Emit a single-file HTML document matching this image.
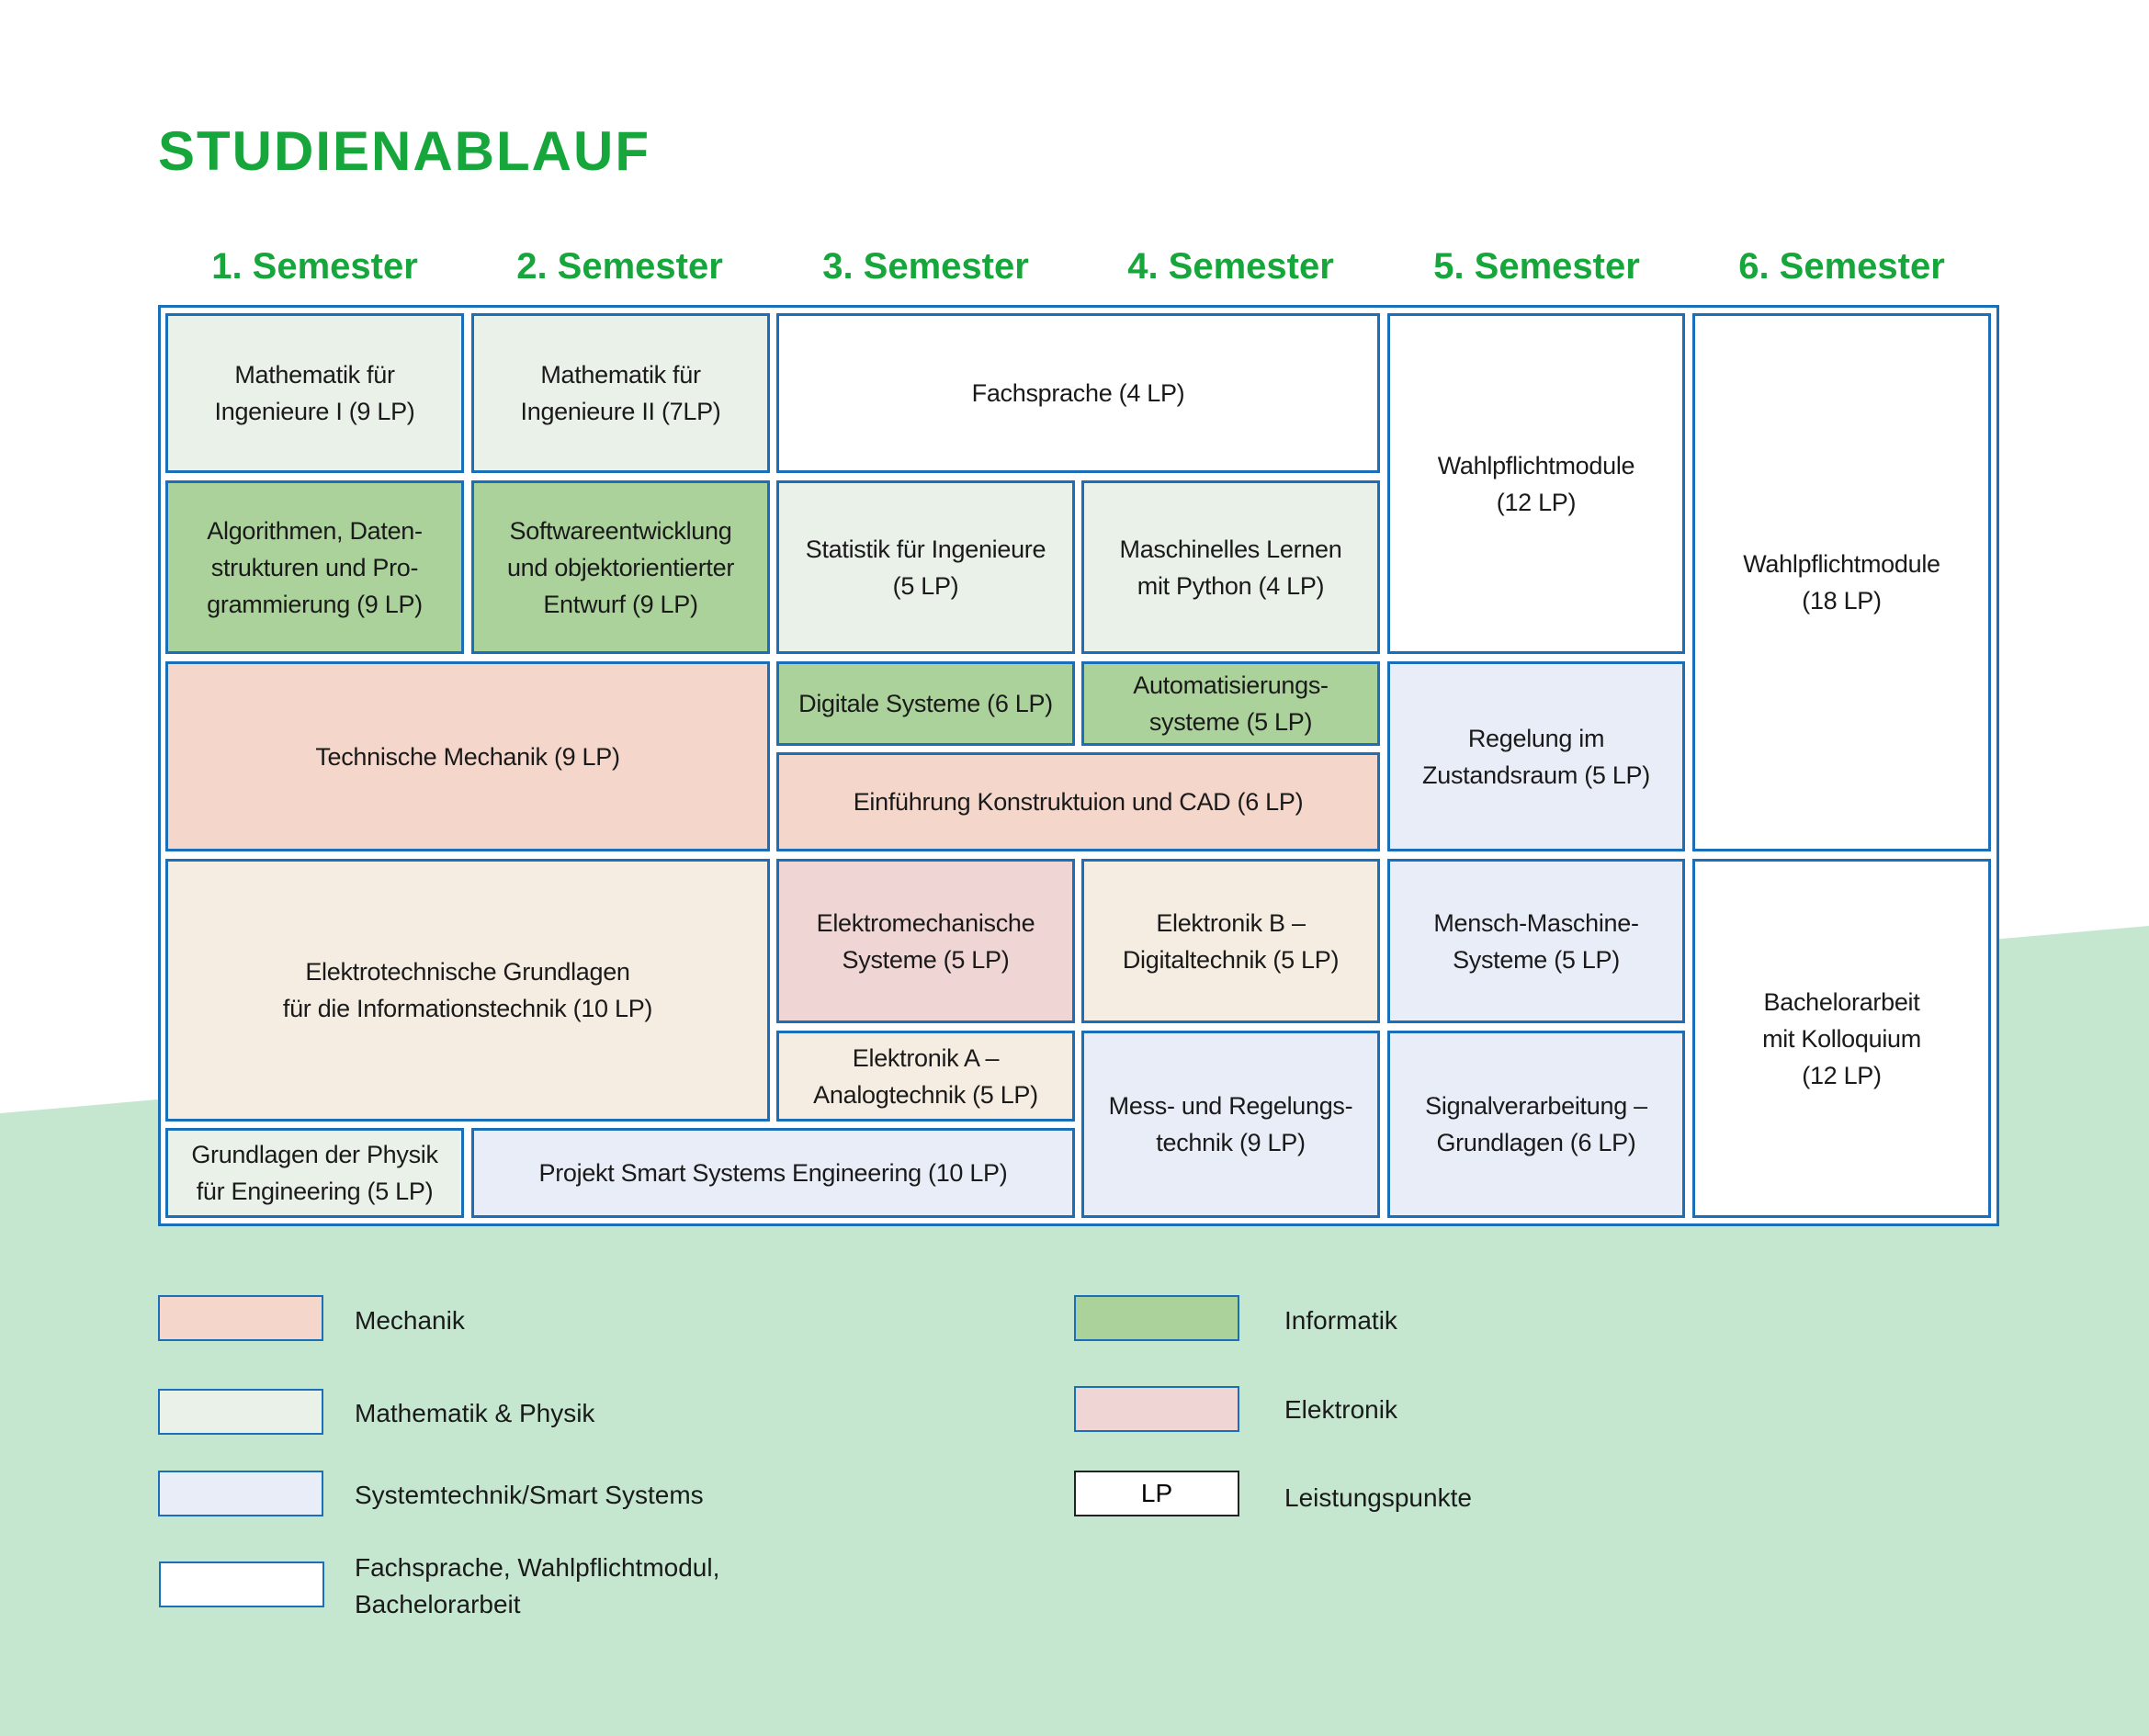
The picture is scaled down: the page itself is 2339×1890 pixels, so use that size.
<!DOCTYPE html>
<html><head><meta charset="utf-8">
<style>
*{margin:0;padding:0;box-sizing:border-box}
body{width:2339px;height:1890px;position:relative;background:#fff;font-family:"Liberation Sans",sans-serif;overflow:hidden}
.b{position:absolute;border:3px solid #1a6fb8;display:flex;align-items:center;justify-content:center;text-align:center;font-size:27px;line-height:40px;color:#1a1a1a;letter-spacing:-0.3px}
.mech{background:#f5d6ca}.math{background:#eaf1e9}.info{background:#acd29c}.elek{background:#efd5d3}.sys{background:#e8edf8}.et{background:#f5ede1}.w{background:#fff}
.sem{position:absolute;top:268px;width:323px;text-align:center;color:#17a63b;font-weight:bold;font-size:40px}
.lg{position:absolute;width:180px;height:50px;border:2px solid #1a6fb8}
.lt{position:absolute;font-size:28px;line-height:40px;color:#1a1a1a}
</style></head><body>
<svg style="position:absolute;left:0;top:0" width="2339" height="1890"><polygon points="0,1212 2339,1008 2339,1890 0,1890" fill="#c5e7d0"/></svg>
<div style="position:absolute;left:172px;top:130px;font-size:60px;font-weight:bold;color:#17a63b;letter-spacing:2px">STUDIENABLAUF</div>
<div class="sem" style="left:181px">1. Semester</div>
<div class="sem" style="left:513px">2. Semester</div>
<div class="sem" style="left:846px">3. Semester</div>
<div class="sem" style="left:1178px">4. Semester</div>
<div class="sem" style="left:1511px">5. Semester</div>
<div class="sem" style="left:1843px">6. Semester</div>
<div style="position:absolute;left:172px;top:332px;width:2004px;height:1003px;border:3px solid #1a6fb8;background:#fff"></div>

<div class="b math" style="left:180px;top:341px;width:325px;height:174px">Mathematik für<br>Ingenieure I (9 LP)</div>
<div class="b math" style="left:513px;top:341px;width:325px;height:174px">Mathematik für<br>Ingenieure II (7LP)</div>
<div class="b w" style="left:845px;top:341px;width:657px;height:174px">Fachsprache (4 LP)</div>
<div class="b w" style="left:1510px;top:341px;width:324px;height:371px">Wahlpflichtmodule<br>(12 LP)</div>
<div class="b w" style="left:1842px;top:341px;width:325px;height:586px">Wahlpflichtmodule<br>(18 LP)</div>

<div class="b info" style="left:180px;top:523px;width:325px;height:189px">Algorithmen, Daten-<br>strukturen und Pro-<br>grammierung (9 LP)</div>
<div class="b info" style="left:513px;top:523px;width:325px;height:189px">Softwareentwicklung<br>und objektorientierter<br>Entwurf (9 LP)</div>
<div class="b math" style="left:845px;top:523px;width:325px;height:189px">Statistik für Ingenieure<br>(5 LP)</div>
<div class="b math" style="left:1177px;top:523px;width:325px;height:189px">Maschinelles Lernen<br>mit Python (4 LP)</div>

<div class="b mech" style="left:180px;top:720px;width:658px;height:207px">Technische Mechanik (9 LP)</div>
<div class="b info" style="left:845px;top:720px;width:325px;height:92px">Digitale Systeme (6 LP)</div>
<div class="b info" style="left:1177px;top:720px;width:325px;height:92px">Automatisierungs-<br>systeme (5 LP)</div>
<div class="b mech" style="left:845px;top:819px;width:657px;height:108px">Einführung Konstruktuion und CAD (6 LP)</div>
<div class="b sys" style="left:1510px;top:720px;width:324px;height:207px">Regelung im<br>Zustandsraum (5 LP)</div>

<div class="b et" style="left:180px;top:935px;width:658px;height:286px">Elektrotechnische Grundlagen<br>für die Informationstechnik (10 LP)</div>
<div class="b elek" style="left:845px;top:935px;width:325px;height:179px">Elektromechanische<br>Systeme (5 LP)</div>
<div class="b et" style="left:1177px;top:935px;width:325px;height:179px">Elektronik B –<br>Digitaltechnik (5 LP)</div>
<div class="b sys" style="left:1510px;top:935px;width:324px;height:179px">Mensch-Maschine-<br>Systeme (5 LP)</div>
<div class="b w" style="left:1842px;top:935px;width:325px;height:391px">Bachelorarbeit<br>mit Kolloquium<br>(12 LP)</div>

<div class="b et" style="left:845px;top:1122px;width:325px;height:99px">Elektronik A –<br>Analogtechnik (5 LP)</div>
<div class="b sys" style="left:1177px;top:1122px;width:325px;height:204px">Mess- und Regelungs-<br>technik (9 LP)</div>
<div class="b sys" style="left:1510px;top:1122px;width:324px;height:204px">Signalverarbeitung –<br>Grundlagen (6 LP)</div>
<div class="b math" style="left:180px;top:1228px;width:325px;height:98px">Grundlagen der Physik<br>für Engineering (5 LP)</div>
<div class="b sys" style="left:513px;top:1228px;width:657px;height:98px">Projekt Smart Systems Engineering (10 LP)</div>

<div class="lg mech" style="left:172px;top:1410px"></div><div class="lt" style="left:386px;top:1418px">Mechanik</div>
<div class="lg math" style="left:172px;top:1512px"></div><div class="lt" style="left:386px;top:1519px">Mathematik &amp; Physik</div>
<div class="lg sys" style="left:172px;top:1601px"></div><div class="lt" style="left:386px;top:1608px">Systemtechnik/Smart Systems</div>
<div class="lg w" style="left:173px;top:1700px"></div><div class="lt" style="left:386px;top:1687px">Fachsprache, Wahlpflichtmodul,<br>Bachelorarbeit</div>
<div class="lg info" style="left:1169px;top:1410px"></div><div class="lt" style="left:1398px;top:1418px">Informatik</div>
<div class="lg elek" style="left:1169px;top:1509px"></div><div class="lt" style="left:1398px;top:1515px">Elektronik</div>
<div class="lg w" style="left:1169px;top:1601px;border-color:#222;display:flex;align-items:center;justify-content:center;font-size:28px">LP</div><div class="lt" style="left:1398px;top:1611px">Leistungspunkte</div>
</body></html>
